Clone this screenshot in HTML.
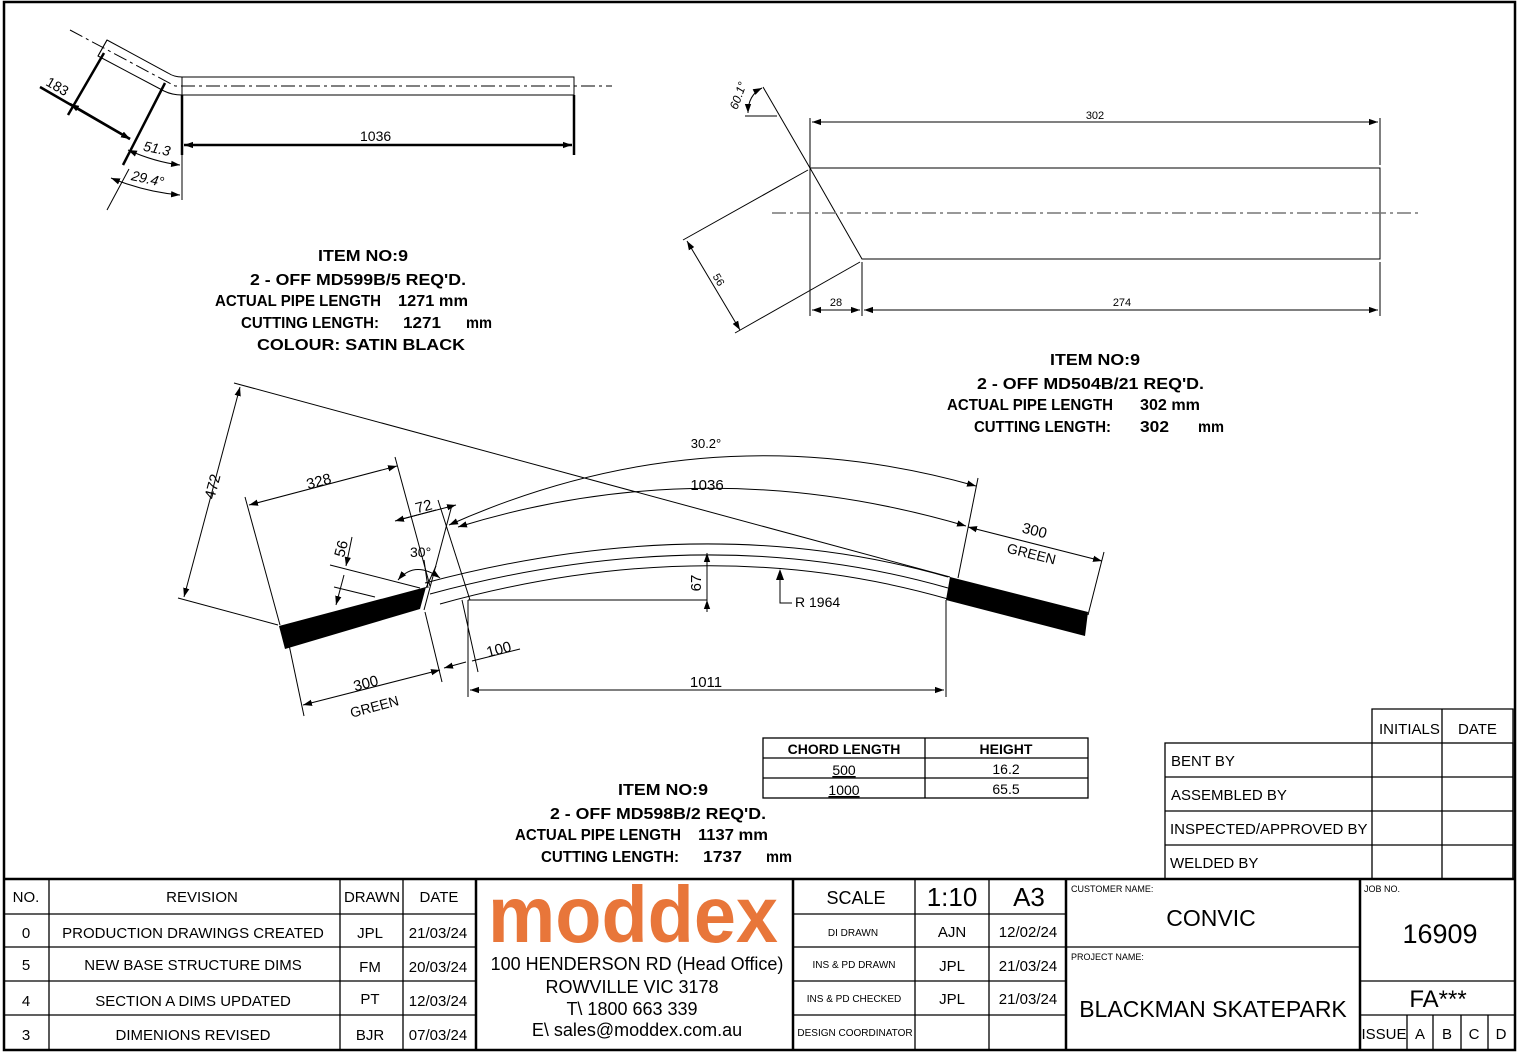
<!DOCTYPE html>
<html><head><meta charset="utf-8"><style>
html,body{margin:0;padding:0;background:#fff;}
svg{display:block;}
text{font-family:"Liberation Sans",Arial,sans-serif;fill:#000;}
.b{font-weight:bold;font-size:16px;}
.d{font-size:14px;}
.t{font-size:15px;}
</style></head><body>
<svg width="1517" height="1054" viewBox="0 0 1517 1054" xmlns="http://www.w3.org/2000/svg">
<defs>
<marker id="a" viewBox="0 0 10 10" refX="10" refY="5" markerWidth="9" markerHeight="9" orient="auto-start-reverse" markerUnits="userSpaceOnUse"><path d="M0,1.5 L10,5 L0,8.5z" fill="#000"/></marker>
</defs>
<rect x="0" y="0" width="1517" height="1054" fill="#fff"/>
<rect x="4" y="2" width="1511" height="1048" fill="none" stroke="#000" stroke-width="2.5"/>

<!-- TOP LEFT DRAWING -->
<g fill="none" stroke="#000" stroke-width="1">
<path d="M107,40 L168,73 Q174,77 182,77 L574,77 L574,95 L182,95 Q172,95 164,91 L98,56 Z"/>
<line x1="107" y1="40" x2="98" y2="56"/>
<path d="M70,30 L175,86 L612,86" stroke-dasharray="14,4,3,4"/>
<line x1="182" y1="77" x2="182" y2="200"/>
<line x1="129" y1="169" x2="107" y2="210"/>
</g>
<g stroke="#000" stroke-width="2.5" fill="none">
<line x1="104" y1="53" x2="68" y2="115"/>
<line x1="165" y1="83" x2="123" y2="165"/>
<line x1="40" y1="87" x2="130" y2="139" marker-end="url(#a)"/>
<line x1="70" y1="104" x2="130" y2="139" marker-start="url(#a)" marker-end="url(#a)"/>
<line x1="182" y1="95" x2="182" y2="155"/>
<line x1="574" y1="95" x2="574" y2="155"/>
<line x1="184" y1="145" x2="572" y2="145" marker-start="url(#a)" marker-end="url(#a)"/>
</g>
<g fill="none" stroke="#000" stroke-width="1">
<path d="M128,150 Q155,162 180,165" marker-start="url(#a)" marker-end="url(#a)"/>
<path d="M111,178 Q145,192 180,195" marker-start="url(#a)" marker-end="url(#a)"/>
</g>
<text class="d" x="44" y="92" transform="rotate(30 58 90)" font-size="15">183</text>
<text class="d" x="143" y="153" transform="rotate(12 155 150)" font-style="italic" font-size="12">51.3</text>
<text class="d" x="131" y="183" transform="rotate(12 145 180)" font-style="italic" font-size="12">29.4°</text>
<text class="d" x="360" y="141" font-size="15">1036</text>

<text class="b" x="318" y="261" textLength="90" lengthAdjust="spacingAndGlyphs">ITEM NO:9</text>
<text class="b" x="250" y="285" textLength="216" lengthAdjust="spacingAndGlyphs">2 - OFF MD599B/5 REQ'D.</text>
<text class="b" x="215" y="306" textLength="166" lengthAdjust="spacingAndGlyphs">ACTUAL PIPE LENGTH</text>
<text class="b" x="398" y="306" textLength="70" lengthAdjust="spacingAndGlyphs">1271 mm</text>
<text class="b" x="241" y="328" textLength="138" lengthAdjust="spacingAndGlyphs">CUTTING LENGTH:</text>
<text class="b" x="403" y="328" textLength="38" lengthAdjust="spacingAndGlyphs">1271</text>
<text class="b" x="466" y="328" textLength="26" lengthAdjust="spacingAndGlyphs">mm</text>
<text class="b" x="257" y="350" textLength="208" lengthAdjust="spacingAndGlyphs">COLOUR: SATIN BLACK</text>

<!-- TOP RIGHT DRAWING -->
<g fill="none" stroke="#000" stroke-width="1">
<path d="M810,168 L1380,168 L1380,259 L862,259 Z"/>
<line x1="810" y1="168" x2="763" y2="87"/>
<line x1="745" y1="116" x2="777" y2="116"/>
<path d="M748,113 Q748,95 762,88" marker-start="url(#a)" marker-end="url(#a)"/>
<line x1="810" y1="118" x2="810" y2="316"/>
<line x1="1380" y1="118" x2="1380" y2="165"/>
<line x1="812" y1="122" x2="1378" y2="122" marker-start="url(#a)" marker-end="url(#a)"/>
<line x1="862" y1="262" x2="862" y2="316"/>
<line x1="1380" y1="262" x2="1380" y2="316"/>
<line x1="812" y1="310" x2="860" y2="310" marker-start="url(#a)" marker-end="url(#a)"/>
<line x1="864" y1="310" x2="1378" y2="310" marker-start="url(#a)" marker-end="url(#a)"/>
<line x1="808" y1="170" x2="683" y2="240"/>
<line x1="860" y1="262" x2="735" y2="333"/>
<line x1="687" y1="241" x2="740" y2="330" marker-start="url(#a)" marker-end="url(#a)"/>
</g>
<line x1="772" y1="213" x2="1418" y2="213" stroke="#777" stroke-width="1.5" stroke-dasharray="14,4,3,4"/>
<text x="1095" y="119" text-anchor="middle" font-size="11">302</text>
<text x="836" y="306" text-anchor="middle" font-size="11">28</text>
<text x="1122" y="306" text-anchor="middle" font-size="11">274</text>
<text x="712" y="283" transform="rotate(60 718 280)" font-size="11">56</text>
<text x="742" y="97" text-anchor="middle" transform="rotate(-70 742 97)" font-size="12" font-style="italic">60.1°</text>

<text class="b" x="1050" y="365" textLength="90" lengthAdjust="spacingAndGlyphs">ITEM NO:9</text>
<text class="b" x="977" y="389" textLength="227" lengthAdjust="spacingAndGlyphs">2 - OFF MD504B/21 REQ'D.</text>
<text class="b" x="947" y="410" textLength="166" lengthAdjust="spacingAndGlyphs">ACTUAL PIPE LENGTH</text>
<text class="b" x="1140" y="410" textLength="60" lengthAdjust="spacingAndGlyphs">302 mm</text>
<text class="b" x="974" y="432" textLength="137" lengthAdjust="spacingAndGlyphs">CUTTING LENGTH:</text>
<text class="b" x="1140" y="432" textLength="29" lengthAdjust="spacingAndGlyphs">302</text>
<text class="b" x="1198" y="432" textLength="26" lengthAdjust="spacingAndGlyphs">mm</text>

<!-- CURVED DRAWING -->
<g fill="none" stroke="#000" stroke-width="1">
<path d="M425,583 Q707,508 948,577"/>
<path d="M430,594 Q707,519 948,588"/>
<path d="M440,604 Q707,530 948,599"/>
<line x1="234" y1="383" x2="950" y2="577"/>
<line x1="178" y1="598" x2="278" y2="625"/>
<line x1="240" y1="387" x2="184" y2="597" marker-start="url(#a)" marker-end="url(#a)"/>
<line x1="245" y1="497" x2="280" y2="625"/>
<line x1="395" y1="457" x2="430" y2="586"/>
<line x1="249" y1="505" x2="397" y2="466" marker-start="url(#a)" marker-end="url(#a)"/>
<line x1="438" y1="500" x2="470" y2="600"/>
<line x1="452" y1="505" x2="424" y2="610"/>
<line x1="398" y1="520" x2="456" y2="505" marker-end="url(#a)"/>
<line x1="395" y1="521" x2="436" y2="510" marker-start="url(#a)"/>
<line x1="330" y1="565" x2="420" y2="588"/>
<line x1="334" y1="587" x2="375" y2="597"/>
<line x1="352" y1="537" x2="346" y2="566" marker-end="url(#a)"/>
<line x1="336" y1="605" x2="344" y2="575" marker-start="url(#a)"/>
<path d="M398,580 Q415,560 440,578" marker-start="url(#a)" marker-end="url(#a)"/>
<line x1="424" y1="560" x2="428" y2="588"/>
<line x1="436" y1="566" x2="426" y2="588"/>
<path d="M449,525 Q707,410 976,486" marker-start="url(#a)" marker-end="url(#a)"/>
<path d="M458,527 Q707,450 966,526" marker-start="url(#a)" marker-end="url(#a)"/>
<line x1="978" y1="478" x2="958" y2="578"/>
<line x1="968" y1="527" x2="1102" y2="561" marker-start="url(#a)" marker-end="url(#a)"/>
<line x1="1104" y1="552" x2="1088" y2="615"/>
<line x1="288" y1="640" x2="304" y2="716"/>
<line x1="425" y1="612" x2="442" y2="682"/>
<line x1="303" y1="705" x2="440" y2="670" marker-start="url(#a)" marker-end="url(#a)"/>
<line x1="462" y1="600" x2="478" y2="672"/>
<line x1="444" y1="668" x2="466" y2="662" marker-start="url(#a)"/>
<line x1="472" y1="661" x2="520" y2="649"/>
<line x1="468" y1="600" x2="468" y2="697"/>
<line x1="946" y1="600" x2="946" y2="697"/>
<line x1="470" y1="690" x2="944" y2="690" marker-start="url(#a)" marker-end="url(#a)"/>
<line x1="468" y1="600" x2="707" y2="600"/>
<line x1="707" y1="553" x2="707" y2="566" marker-start="url(#a)"/>
<line x1="707" y1="566" x2="707" y2="600" />
<line x1="707" y1="600" x2="707" y2="612" marker-start="url(#a)"/>
<polyline points="780,571 780,603 792,603" />
</g>
<path d="M780,569 L776,580 L784,580 Z" fill="#000"/>
<polygon points="279,626 426,587 420,609 285,649" fill="#000"/>
<polygon points="950,577 1088,612 1085,636 946,600" fill="#000"/>
<text x="706" y="448" text-anchor="middle" font-size="13">30.2°</text>
<text x="707" y="490" text-anchor="middle" font-size="15">1036</text>
<text x="706" y="687" text-anchor="middle" font-size="15">1011</text>
<text x="795" y="607" font-size="14">R 1964</text>
<text x="701" y="583" text-anchor="middle" transform="rotate(-90 701 583)" font-size="15">67</text>
<text x="202" y="500" transform="rotate(-75 208 492)" font-size="15">472</text>
<text x="306" y="486" transform="rotate(-15 320 480)" font-size="15">328</text>
<text x="415" y="511" transform="rotate(-15 425 505)" font-size="15">72</text>
<text x="410" y="557" font-size="14">30°</text>
<text x="346" y="550" text-anchor="middle" transform="rotate(-75 346 550)" font-size="15">56</text>
<text x="486" y="654" transform="rotate(-15 500 648)" font-size="15">100</text>
<text x="353" y="688" transform="rotate(-15 367 682)" font-size="15">300</text>
<text x="349" y="712" transform="rotate(-15 372 705)" font-size="14">GREEN</text>
<text x="1021" y="536" transform="rotate(14 1036 535)" font-size="15">300</text>
<text x="1005" y="558" transform="rotate(14 1028 560)" font-size="14">GREEN</text>

<text class="b" x="618" y="795" textLength="90" lengthAdjust="spacingAndGlyphs">ITEM NO:9</text>
<text class="b" x="550" y="819" textLength="216" lengthAdjust="spacingAndGlyphs">2 - OFF MD598B/2 REQ'D.</text>
<text class="b" x="515" y="840" textLength="166" lengthAdjust="spacingAndGlyphs">ACTUAL PIPE LENGTH</text>
<text class="b" x="698" y="840" textLength="70" lengthAdjust="spacingAndGlyphs">1137 mm</text>
<text class="b" x="541" y="862" textLength="138" lengthAdjust="spacingAndGlyphs">CUTTING LENGTH:</text>
<text class="b" x="703" y="862" textLength="39" lengthAdjust="spacingAndGlyphs">1737</text>
<text class="b" x="766" y="862" textLength="26" lengthAdjust="spacingAndGlyphs">mm</text>

<!-- CHORD TABLE -->
<g fill="none" stroke="#000" stroke-width="1.3">
<rect x="763" y="738" width="325" height="60"/>
<line x1="925" y1="738" x2="925" y2="798"/>
<line x1="763" y1="758" x2="1088" y2="758"/>
<line x1="763" y1="778" x2="1088" y2="778"/>
</g>
<text x="844" y="754" text-anchor="middle" font-size="14" font-weight="bold">CHORD LENGTH</text>
<text x="1006" y="754" text-anchor="middle" font-size="14" font-weight="bold">HEIGHT</text>
<text x="844" y="775" text-anchor="middle" font-size="14" text-decoration="underline">500</text>
<text x="1006" y="774" text-anchor="middle" font-size="14">16.2</text>
<text x="844" y="795" text-anchor="middle" font-size="14" text-decoration="underline">1000</text>
<text x="1006" y="794" text-anchor="middle" font-size="14">65.5</text>

<!-- SIGN-OFF TABLE -->
<g fill="none" stroke="#000" stroke-width="1.3">
<polyline points="1372,879 1372,709 1513,709 1513,879"/>
<line x1="1442" y1="709" x2="1442" y2="879"/>
<rect x="1165" y="743" width="348" height="136"/>
<line x1="1165" y1="777" x2="1513" y2="777"/>
<line x1="1165" y1="811" x2="1513" y2="811"/>
<line x1="1165" y1="845" x2="1513" y2="845"/>
</g>
<text class="t" x="1379" y="734">INITIALS</text>
<text class="t" x="1458" y="734">DATE</text>
<text class="t" x="1171" y="766">BENT BY</text>
<text class="t" x="1171" y="800">ASSEMBLED BY</text>
<text class="t" x="1170" y="834">INSPECTED/APPROVED BY</text>
<text class="t" x="1170" y="868">WELDED BY</text>

<!-- TITLE BLOCK -->
<g fill="none" stroke="#000" stroke-width="1.3">
<line x1="4" y1="879" x2="1515" y2="879" stroke-width="2.5"/>
<line x1="49" y1="879" x2="49" y2="1049"/>
<line x1="340" y1="879" x2="340" y2="1049"/>
<line x1="403" y1="879" x2="403" y2="1049"/>
<line x1="4" y1="914" x2="476" y2="914"/>
<line x1="4" y1="947" x2="476" y2="947"/>
<line x1="4" y1="981" x2="476" y2="981"/>
<line x1="4" y1="1015" x2="476" y2="1015"/>
<line x1="476" y1="879" x2="476" y2="1049" stroke-width="2.5"/>
<line x1="793" y1="879" x2="793" y2="1049" stroke-width="2.5"/>
<line x1="915" y1="879" x2="915" y2="1049"/>
<line x1="989" y1="879" x2="989" y2="1049"/>
<line x1="793" y1="914" x2="1066" y2="914"/>
<line x1="793" y1="947" x2="1066" y2="947"/>
<line x1="793" y1="981" x2="1066" y2="981"/>
<line x1="793" y1="1015" x2="1066" y2="1015"/>
<line x1="1066" y1="879" x2="1066" y2="1049" stroke-width="2.5"/>
<line x1="1066" y1="947" x2="1360" y2="947"/>
<line x1="1360" y1="879" x2="1360" y2="1049" stroke-width="2.5"/>
<line x1="1360" y1="981" x2="1515" y2="981"/>
<line x1="1360" y1="1015" x2="1515" y2="1015"/>
<line x1="1407" y1="1015" x2="1407" y2="1049"/>
<line x1="1433" y1="1015" x2="1433" y2="1049"/>
<line x1="1461" y1="1015" x2="1461" y2="1049"/>
<line x1="1488" y1="1015" x2="1488" y2="1049"/>
</g>
<text class="t" x="26" y="902" text-anchor="middle">NO.</text>
<text class="t" x="202" y="902" text-anchor="middle">REVISION</text>
<text class="t" x="372" y="902" text-anchor="middle">DRAWN</text>
<text class="t" x="439" y="902" text-anchor="middle">DATE</text>
<text class="t" x="26" y="938" text-anchor="middle">0</text>
<text class="t" x="193" y="938" text-anchor="middle">PRODUCTION DRAWINGS CREATED</text>
<text class="t" x="370" y="938" text-anchor="middle">JPL</text>
<text class="t" x="438" y="938" text-anchor="middle">21/03/24</text>
<text class="t" x="26" y="970" text-anchor="middle">5</text>
<text class="t" x="193" y="970" text-anchor="middle">NEW BASE STRUCTURE DIMS</text>
<text class="t" x="370" y="972" text-anchor="middle">FM</text>
<text class="t" x="438" y="972" text-anchor="middle">20/03/24</text>
<text class="t" x="26" y="1006" text-anchor="middle">4</text>
<text class="t" x="193" y="1006" text-anchor="middle">SECTION A DIMS UPDATED</text>
<text class="t" x="370" y="1004" text-anchor="middle">PT</text>
<text class="t" x="438" y="1006" text-anchor="middle">12/03/24</text>
<text class="t" x="26" y="1040" text-anchor="middle">3</text>
<text class="t" x="193" y="1040" text-anchor="middle">DIMENIONS REVISED</text>
<text class="t" x="370" y="1040" text-anchor="middle">BJR</text>
<text class="t" x="438" y="1040" text-anchor="middle">07/03/24</text>

<text x="633" y="942" text-anchor="middle" font-size="80" font-weight="bold" style="fill:#E8763A" textLength="290" lengthAdjust="spacingAndGlyphs">moddex</text>
<text x="637" y="970" text-anchor="middle" font-size="18">100 HENDERSON RD (Head Office)</text>
<text x="632" y="993" text-anchor="middle" font-size="18">ROWVILLE VIC 3178</text>
<text x="632" y="1015" text-anchor="middle" font-size="18">T\ 1800 663 339</text>
<text x="637" y="1036" text-anchor="middle" font-size="18">E\ sales@moddex.com.au</text>

<text x="856" y="904" text-anchor="middle" font-size="18">SCALE</text>
<text x="952" y="906" text-anchor="middle" font-size="26">1:10</text>
<text x="1029" y="906" text-anchor="middle" font-size="26">A3</text>
<text x="853" y="936" text-anchor="middle" font-size="10">DI DRAWN</text>
<text x="952" y="937" text-anchor="middle" font-size="15">AJN</text>
<text x="1028" y="937" text-anchor="middle" font-size="15">12/02/24</text>
<text x="854" y="968" text-anchor="middle" font-size="10">INS &amp; PD DRAWN</text>
<text x="952" y="971" text-anchor="middle" font-size="15">JPL</text>
<text x="1028" y="971" text-anchor="middle" font-size="15">21/03/24</text>
<text x="854" y="1002" text-anchor="middle" font-size="10">INS &amp; PD CHECKED</text>
<text x="952" y="1004" text-anchor="middle" font-size="15">JPL</text>
<text x="1028" y="1004" text-anchor="middle" font-size="15">21/03/24</text>
<text x="855" y="1036" text-anchor="middle" font-size="10">DESIGN COORDINATOR</text>

<text x="1071" y="892" font-size="9">CUSTOMER NAME:</text>
<text x="1211" y="926" text-anchor="middle" font-size="23">CONVIC</text>
<text x="1071" y="960" font-size="9">PROJECT NAME:</text>
<text x="1213" y="1017" text-anchor="middle" font-size="23">BLACKMAN SKATEPARK</text>
<text x="1364" y="892" font-size="9">JOB NO.</text>
<text x="1440" y="943" text-anchor="middle" font-size="27">16909</text>
<text x="1438" y="1007" text-anchor="middle" font-size="24">FA***</text>
<text x="1384" y="1039" text-anchor="middle" font-size="15">ISSUE</text>
<text x="1420" y="1039" text-anchor="middle" font-size="15">A</text>
<text x="1447" y="1039" text-anchor="middle" font-size="15">B</text>
<text x="1474" y="1039" text-anchor="middle" font-size="15">C</text>
<text x="1501" y="1039" text-anchor="middle" font-size="15">D</text>
</svg>
</body></html>
